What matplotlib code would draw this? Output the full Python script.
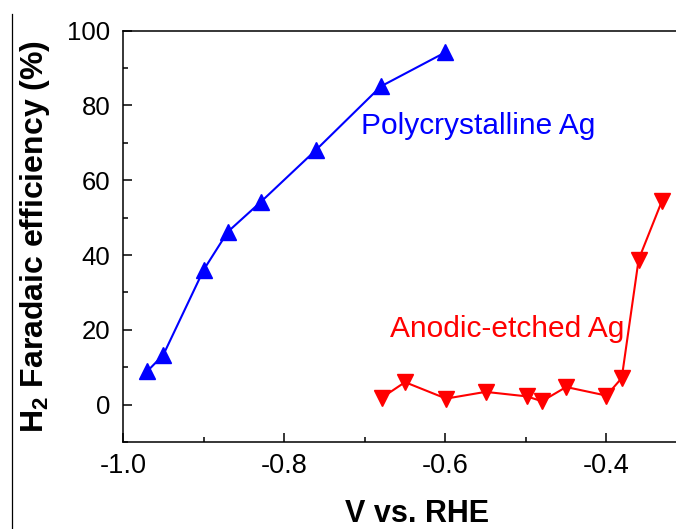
import numpy as np
import matplotlib
matplotlib.use('Agg')
import matplotlib.pyplot as plt
from matplotlib.ticker import MultipleLocator
from matplotlib.lines import Line2D

plt.rcParams['font.family'] = ['Liberation Sans', 'DejaVu Sans']
plt.rcParams['axes.unicode_minus'] = False
plt.rcParams['mathtext.fontset'] = 'custom'
plt.rcParams['mathtext.rm'] = 'Liberation Sans'
plt.rcParams['mathtext.bf'] = 'Liberation Sans:bold'

# H2 Faradaic efficiency vs potential
V_poly  = [-0.970, -0.950, -0.900, -0.870, -0.829, -0.760, -0.680, -0.600]
FE_poly = [8.9, 13.3, 36.0, 46.2, 54.2, 68.2, 85.1, 94.2]

V_etch  = [-0.679, -0.650, -0.599, -0.550, -0.499, -0.480, -0.450, -0.400, -0.381, -0.360, -0.331]
FE_etch = [1.8, 6.0, 1.6, 3.4, 2.2, 0.9, 4.7, 2.4, 7.1, 38.8, 54.5]

fig = plt.figure(figsize=(6.76, 5.29), dpi=100)
ax = fig.add_axes([0.182, 0.1645, 0.870, 0.7775])

ax.plot(V_poly, FE_poly, '-', color='#0000FF', lw=1.5, marker='^', markersize=11)
ax.plot(V_etch, FE_etch, '-', color='#FF0000', lw=1.5, marker='v', markersize=11.5)

ax.text(-0.705, 72.5, 'Polycrystalline Ag', color='#0000FF', fontsize=21.5, va='baseline')
ax.text(-0.669, 18.2, 'Anodic-etched Ag', color='#FF0000', fontsize=21.5, va='baseline')

ax.set_xlim(-1.0, -0.27)
ax.set_ylim(-10, 100)
ax.xaxis.set_major_locator(MultipleLocator(0.2))
ax.xaxis.set_minor_locator(MultipleLocator(0.1))
ax.yaxis.set_major_locator(MultipleLocator(20))
ax.yaxis.set_minor_locator(MultipleLocator(10))
ax.xaxis.set_major_formatter(matplotlib.ticker.FormatStrFormatter('%.1f'))

ax.tick_params(which='both', direction='in', width=1.1, top=False, right=False)
ax.tick_params(which='major', length=6.5)
ax.tick_params(which='minor', length=3.5)
ax.tick_params(axis='x', labelsize=19.5, pad=8)
ax.tick_params(axis='y', labelsize=18.5, pad=9)
for s in ax.spines.values():
    s.set_linewidth(1.1)

ax.set_xlabel('V vs. RHE', fontsize=22, fontweight='bold', labelpad=14)
ax.set_ylabel(r'H$_\mathbf{2}$ Faradaic efficiency (%)', fontsize=23, fontweight='bold', labelpad=11)

# thin border line on the left edge of the cropped figure
fig.add_artist(Line2D([0.0178, 0.0178], [0.0, 0.9735], transform=fig.transFigure, color='black', lw=0.9))

fig.savefig('out.png', dpi=100)
